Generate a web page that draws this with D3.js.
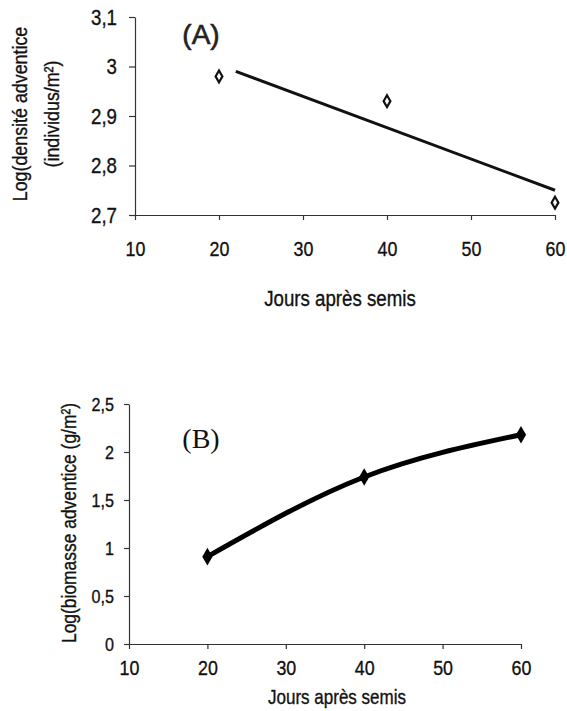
<!DOCTYPE html>
<html>
<head>
<meta charset="utf-8">
<script src="https://cdn.jsdelivr.net/npm/d3@7"></script>
<style>
  body { margin: 0; background: #fff; }
  svg { display: block; }
  .lab { font-family: "Liberation Sans", Arial, sans-serif; fill: #111; stroke: #111; stroke-width: 0.35; }
  .axis path, .axis line { stroke: #333; stroke-width: 1.2; }
</style>
</head>
<body>
<div id="chart"></div>
<script>
// --- data ---
var joursTicks = [10, 20, 30, 40, 50, 60];

// (A) densite adventice
var densiteJours = [20, 40, 60];
var densiteLog = [2.98, 2.93, 2.725];
var tendanceJours = [22, 60];
var tendanceLog = [2.99, 2.75];
var densiteTicks = [2.7, 2.8, 2.9, 3.0, 3.1];

// (B) biomasse adventice
var biomasseJours = [20, 40, 60];
var biomasseLog = [0.91, 1.74, 2.18];
var biomasseTicks = [0, 0.5, 1, 1.5, 2, 2.5];

var SX = 0.85; // squeeze text sideways, the scan uses a narrow face

var fr = d3.formatLocale({decimal: ",", thousands: " ", grouping: [3], currency: ["", " €"]});
var fmt = fr.format(".1~f");

var svg = d3.select("#chart").append("svg").attr("width", 567).attr("height", 711);

// squeeze tick labels; x attr is divided so the anchor stays put
function squeeze(size){
    return function(g){
        g.selectAll("text")
            .attr("class", "lab")
            .attr("font-size", size)
            .attr("x", function(){ return (+d3.select(this).attr("x") || 0) / SX; })
            .attr("transform", "scale(" + SX + ",1)");
    };
}

// ================= panel A =================
var xA = d3.scaleLinear().domain([10, 60]).range([135, 555]);
var yA = d3.scaleLinear().domain([2.7, 3.1]).range([215, 17]);

svg.append("g").attr("class", "axis")
    .attr("transform", "translate(0,215)")
    .call(d3.axisBottom(xA).tickValues(joursTicks).tickSize(5).tickPadding(21).tickSizeOuter(0).tickFormat(d3.format("d")))
    .call(squeeze(21));

svg.append("g").attr("class", "axis")
    .attr("transform", "translate(135,0)")
    .call(d3.axisLeft(yA).tickValues(densiteTicks).tickSize(6).tickPadding(12).tickSizeOuter(0).tickFormat(fmt))
    .call(squeeze(22));

// trend line
var tendance = tendanceJours.map(function(d, i){ return [d, tendanceLog[i]]; });
svg.append("path")
    .datum(tendance)
    .attr("fill", "none")
    .attr("stroke", "#111")
    .attr("stroke-width", 3)
    .attr("d", d3.line().x(function(d){ return xA(d[0]); }).y(function(d){ return yA(d[1]); }));

// observed points
svg.append("g").selectAll("path")
    .data(densiteJours.map(function(d, i){ return [d, densiteLog[i]]; }))
    .enter().append("path")
    .attr("transform", function(d){ return "translate(" + xA(d[0]) + "," + yA(d[1]) + ")"; })
    .attr("d", d3.symbol().type(d3.symbolDiamond).size(40))
    .attr("fill", "#fff")
    .attr("stroke", "#111")
    .attr("stroke-width", 2.2);

svg.append("text").attr("x", 201).attr("y", 44)
    .attr("text-anchor", "middle")
    .attr("font-family", "Liberation Sans, Arial, sans-serif")
    .attr("font-size", 28)
    .attr("fill", "#222")
    .attr("stroke", "#222").attr("stroke-width", 0.6)
    .text("(A)");

svg.append("text").attr("class", "lab")
    .attr("transform", "translate(340,306) scale(" + SX + ",1)")
    .attr("text-anchor", "middle").attr("font-size", 22)
    .text("Jours après semis");

var titreA = svg.append("text").attr("class", "lab")
    .attr("transform", "translate(0,114) rotate(-90) scale(" + SX + ",1)")
    .attr("text-anchor", "middle").attr("font-size", 21);
titreA.append("tspan").attr("x", 0).attr("y", 27).text("Log(densité adventice");
titreA.append("tspan").attr("x", 0).attr("y", 59).text("(individus/m²)");

// ================= panel B =================
var xB = d3.scaleLinear().domain([10, 60]).range([129, 521]);
var yB = d3.scaleLinear().domain([0, 2.5]).range([644, 404]);

svg.append("g").attr("class", "axis")
    .attr("transform", "translate(0,644)")
    .call(d3.axisBottom(xB).tickValues(joursTicks).tickSize(5).tickPadding(11).tickSizeOuter(0).tickFormat(d3.format("d")))
    .call(squeeze(21));

svg.append("g").attr("class", "axis")
    .attr("transform", "translate(129,0)")
    .call(d3.axisLeft(yB).tickValues(biomasseTicks).tickSize(5).tickPadding(10).tickSizeOuter(0).tickFormat(fmt))
    .call(squeeze(19));

var biomasse = biomasseJours.map(function(d, i){ return [d, biomasseLog[i]]; });
svg.append("path")
    .datum(biomasse)
    .attr("fill", "none")
    .attr("stroke", "#000")
    .attr("stroke-width", 5)
    .attr("stroke-linejoin", "round")
    .attr("d", d3.line().curve(d3.curveNatural).x(function(d){ return xB(d[0]); }).y(function(d){ return yB(d[1]); }));

svg.append("g").selectAll("path")
    .data(biomasse)
    .enter().append("path")
    .attr("transform", function(d){ return "translate(" + xB(d[0]) + "," + yB(d[1]) + ")"; })
    .attr("d", d3.symbol().type(d3.symbolDiamond).size(90))
    .attr("fill", "#000");

svg.append("text").attr("x", 201).attr("y", 448)
    .attr("text-anchor", "middle")
    .attr("font-family", "Liberation Serif, Times New Roman, serif")
    .attr("font-size", 28)
    .attr("fill", "#111")
    .text("(B)");

svg.append("text").attr("class", "lab")
    .attr("transform", "translate(337,704) scale(" + SX + ",1)")
    .attr("text-anchor", "middle").attr("font-size", 20)
    .text("Jours après semis");

svg.append("text").attr("class", "lab")
    .attr("transform", "translate(76,523) rotate(-90) scale(" + SX + ",1)")
    .attr("text-anchor", "middle").attr("font-size", 20.5)
    .text("Log(biomasse adventice (g/m²)");
</script>
</body>
</html>
